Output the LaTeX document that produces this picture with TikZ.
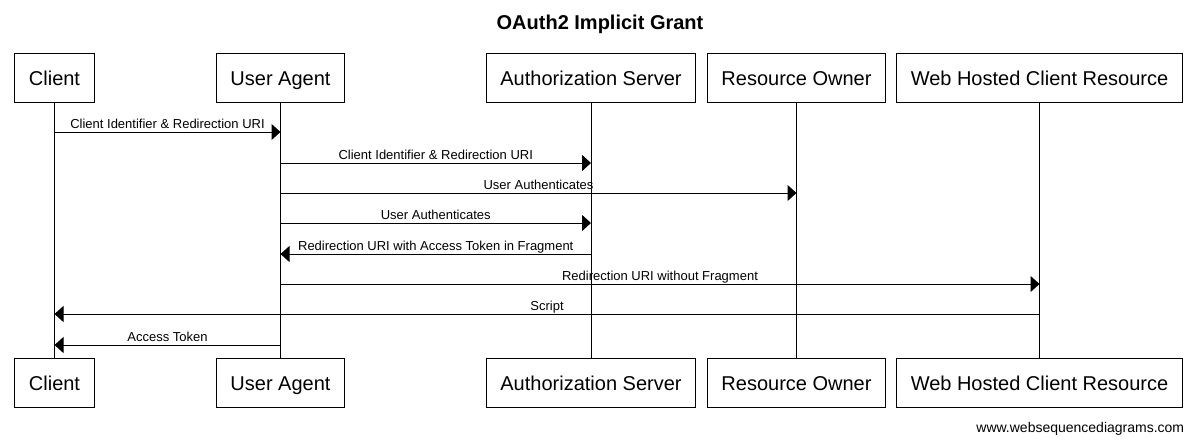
\documentclass[tikz,border=0pt]{standalone}
\usepackage{fontspec}
\setmainfont{Liberation Sans}
\usetikzlibrary{arrows.meta}

\begin{document}
\begin{tikzpicture}[x=1pt, y=-1pt, line width=1pt,
  actor/.style={draw, minimum height=49pt, inner xsep=14pt, text height=18pt, text depth=3pt, font=\fontsize{20}{24}\selectfont},
  msg/.style={-{Triangle[length=9pt, width=16pt]}},
  lbl/.style={anchor=base, yshift=4pt, inner sep=0pt, font=\fontsize{13}{15}\selectfont}]
\useasboundingbox (0,0) rectangle (1198,442);
\node[anchor=base, font=\bfseries\fontsize{20}{24}\selectfont] (title) at (600,29) {OAuth2 Implicit Grant};
% participants, top row
\node[actor] (ct) at (54.5,77.5) {Client};
\node[actor] (ua) at (280.5,77.5) {User Agent};
\node[actor] (as) at (591,77.5) {Authorization Server};
\node[actor] (ro) at (796.5,77.5) {Resource Owner};
\node[actor] (wh) at (1039.5,77.5) {Web Hosted Client Resource};
% participants, bottom row
\node[actor] (ct2) at (54.5,382.5) {Client};
\node[actor] (ua2) at (280.5,382.5) {User Agent};
\node[actor] (as2) at (591,382.5) {Authorization Server};
\node[actor] (ro2) at (796.5,382.5) {Resource Owner};
\node[actor] (wh2) at (1039.5,382.5) {Web Hosted Client Resource};
\foreach \n in {ct,ua,as,ro,wh}
  \draw (\n.south) -- (\n2.north);
% messages
\foreach \a/\b/\y/\t in {ct/ua/132/Client Identifier \& Redirection URI,
    ua/as/163/Client Identifier \& Redirection URI,
    ua/ro/193/User Authenticates,
    ua/as/223/User Authenticates,
    as/ua/254/Redirection URI with Access Token in Fragment,
    ua/wh/284/Redirection URI without Fragment,
    wh/ct/314/Script,
    ua/ct/345/Access Token}
  \draw[msg] (\a |- 0,\y) -- node[lbl] {\t} (\b |- 0,\y);
\node[anchor=base east, font=\fontsize{14}{16}\selectfont] (foot) at (1188,432) {www.websequencediagrams.com};
\end{tikzpicture}
\end{document}
